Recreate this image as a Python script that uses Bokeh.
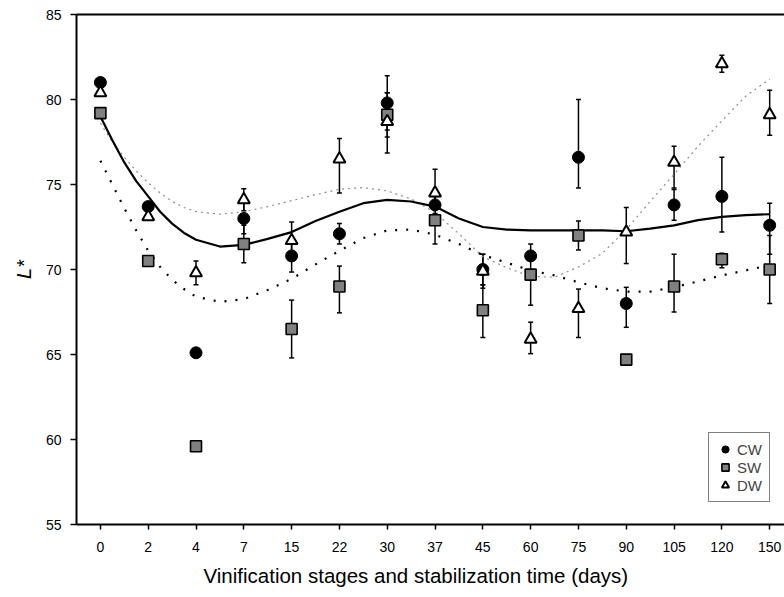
from bokeh.plotting import figure
from bokeh.models import (Range1d, FixedTicker, ColumnDataSource, Whisker, TeeHead,
                          Legend, LegendItem, LinearAxis, Title)
from bokeh.embed import file_html
from bokeh.resources import INLINE

# ---------------- data ----------------
days = ["0", "2", "4", "7", "15", "22", "30", "37", "45", "60", "75", "90", "105", "120", "150"]

cw = [81.0, 73.7, 65.1, 73.0, 70.8, 72.1, 79.8, 73.8, 70.0, 70.8, 76.6, 68.0, 73.8, 74.3, 72.6]
cw_err_up = [0.2, 0.2, 0.0, 0.9, 0.9, 0.6, 1.6, 0.5, 0.9, 0.25, 3.4, 0.95, 0.9, 2.3, 1.3]
cw_err_dn = [0.2, 0.2, 0.0, 0.9, 0.95, 0.6, 1.6, 0.5, 0.9, 0.25, 1.8, 1.4, 0.9, 2.1, 1.7]

sw = [79.2, 70.5, 59.6, 71.5, 66.5, 69.0, 79.1, 72.9, 67.6, 69.7, 72.0, 64.7, 69.0, 70.6, 70.0]
sw_err_up = [0.0, 0.1, 0.0, 1.1, 1.7, 1.2, 1.3, 1.4, 1.5, 1.8, 0.85, 0.0, 1.9, 0.35, 2.0]
sw_err_dn = [0.0, 0.1, 0.0, 1.1, 1.7, 1.55, 1.3, 1.4, 1.6, 1.8, 0.85, 0.0, 1.5, 0.5, 2.0]

dw = [80.4, 73.1, 69.8, 74.1, 71.7, 76.5, 78.7, 74.5, 69.9, 65.9, 67.7, 72.2, 76.3, 82.1, 79.1]
dw_err_up = [0.0, 0.0, 0.7, 0.65, 1.1, 1.2, 1.7, 1.4, 1.0, 1.0, 1.15, 1.45, 0.95, 0.5, 1.45]
dw_err_dn = [0.0, 0.0, 0.7, 0.65, 1.1, 2.0, 1.85, 1.4, 1.0, 0.85, 1.7, 1.85, 1.5, 0.5, 1.2]

# fitted trend curves at category positions (0 .. 14)
fit_pos = [0, 0.25, 0.5, 0.75, 1, 1.25, 1.5, 1.75, 2, 2.5, 3, 3.5, 4, 4.5, 5, 5.5, 6, 6.5,
           7, 7.5, 8, 8.5, 9, 9.5, 10, 10.5, 11, 11.5, 12, 12.5, 13, 13.5, 14]
cw_fit = [79.0, 77.6, 76.3, 75.2, 74.3, 73.4, 72.7, 72.15, 71.75, 71.35, 71.45, 71.8, 72.2,
          72.85, 73.4, 73.9, 74.1, 74.0, 73.7, 73.0, 72.5, 72.35, 72.3, 72.3, 72.3, 72.3,
          72.25, 72.4, 72.6, 72.9, 73.1, 73.2, 73.25]
sw_fit = [76.4, 75.0, 73.6, 72.3, 71.1, 70.15, 69.4, 68.85, 68.4, 68.1, 68.25, 68.8, 69.45,
          70.3, 71.1, 71.85, 72.3, 72.35, 72.05, 71.5, 70.85, 70.4, 69.95, 69.65, 69.25,
          68.9, 68.7, 68.7, 68.95, 69.3, 69.65, 69.95, 70.25]
dw_fit = [78.6, 77.5, 76.6, 75.8, 75.1, 74.5, 74.0, 73.65, 73.4, 73.25, 73.4, 73.7, 74.05,
          74.4, 74.72, 74.82, 74.62, 74.15, 73.35, 72.1, 70.75, 70.1, 69.6, 69.55, 70.15,
          70.95, 72.35, 74.0, 75.6, 77.25, 78.75, 80.2, 81.2]

y_ticks = [55, 60, 65, 70, 75, 80, 85]
x_title = "Vinification stages and stabilization time (days)"
y_title = "L*"

# ---------------- figure ----------------
idx = list(range(len(days)))
FONT = "Liberation Sans"

p = figure(width=784, height=597, output_backend="svg", toolbar_location=None,
           x_range=Range1d(-0.5, 14.31), y_range=Range1d(55, 85),
           min_border_left=76, min_border_right=0, min_border_top=14, min_border_bottom=73)
p.xgrid.visible = False
p.ygrid.visible = False
p.outline_line_color = None
p.background_fill_color = "white"
p.border_fill_color = "white"

xa = p.below[0]
ya = p.left[0]

top_axis = LinearAxis(ticker=FixedTicker(ticks=[]), axis_line_width=2, axis_line_color="black",
                      major_tick_line_color=None, minor_tick_line_color=None,
                      major_tick_out=0, major_tick_in=0, major_label_standoff=0)
p.add_layout(top_axis, "above")

# curves
p.line(fit_pos, dw_fit, line_color="#8c8c8c", line_width=1.2, line_dash="2 4")
p.line(fit_pos, sw_fit, line_color="black", line_width=2.2, line_dash="2 9")
p.line(fit_pos, cw_fit, line_color="black", line_width=2.2)


def make_src(vals, up, dn):
    return ColumnDataSource(dict(x=idx, y=vals,
                                 hi=[v + e for v, e in zip(vals, up)],
                                 lo=[v - e for v, e in zip(vals, dn)]))


src_cw = make_src(cw, cw_err_up, cw_err_dn)
src_sw = make_src(sw, sw_err_up, sw_err_dn)
src_dw = make_src(dw, dw_err_up, dw_err_dn)

for s in (src_cw, src_sw, src_dw):
    w = Whisker(source=s, base="x", lower="lo", upper="hi", line_color="black", line_width=1.5,
                upper_head=TeeHead(size=5, line_width=1.5, line_color="black"),
                lower_head=TeeHead(size=5, line_width=1.5, line_color="black"))
    p.add_layout(w)

r_cw = p.scatter("x", "y", source=src_cw, marker="circle", size=12,
                 fill_color="black", line_color="black")
r_sw = p.scatter("x", "y", source=src_sw, marker="square", size=11,
                 fill_color="#808080", line_color="black", line_width=1.6)
r_dw = p.scatter("x", "y", source=src_dw, marker="triangle", size=12,
                 fill_color="white", line_color="black", line_width=2)

legend = Legend(items=[LegendItem(label="CW", renderers=[r_cw]),
                       LegendItem(label="SW", renderers=[r_sw]),
                       LegendItem(label="DW", renderers=[r_dw])],
                location=(632, 22), orientation="vertical",
                glyph_width=18, glyph_height=18, spacing=-2, padding=7, margin=0,
                label_standoff=3, label_text_font=FONT, label_text_font_size="15px",
                label_height=16, border_line_color="black", border_line_width=1,
                background_fill_color="white", background_fill_alpha=1)
p.add_layout(legend)

# axes
xa.ticker = FixedTicker(ticks=idx)
xa.major_label_overrides = {i: d for i, d in zip(idx, days)}
ya.ticker = FixedTicker(ticks=y_ticks)

for ax in (xa, ya):
    ax.axis_line_width = 2
    ax.axis_line_color = "black"
    ax.major_tick_in = 0
    ax.major_tick_line_color = "black"
    ax.major_tick_line_width = 1.5
    ax.minor_tick_line_color = None
    ax.major_label_text_font = FONT
    ax.major_label_text_font_size = "14px"
    ax.major_label_text_color = "black"

xa.major_tick_out = 5
xa.major_label_standoff = 12
ya.major_tick_out = 6
ya.major_label_standoff = 9

# axis titles as side-panel titles
p.add_layout(Title(text=x_title, align="left", offset=127, standoff=14,
                   text_font=FONT, text_font_size="20.5px", text_font_style="normal",
                   text_color="black"), "below")
p.add_layout(Title(text=y_title, align="center", standoff=15,
                   text_font=FONT, text_font_size="20px", text_font_style="italic",
                   text_color="black"), "left")

open("out.html", "w").write(file_html(p, INLINE))
